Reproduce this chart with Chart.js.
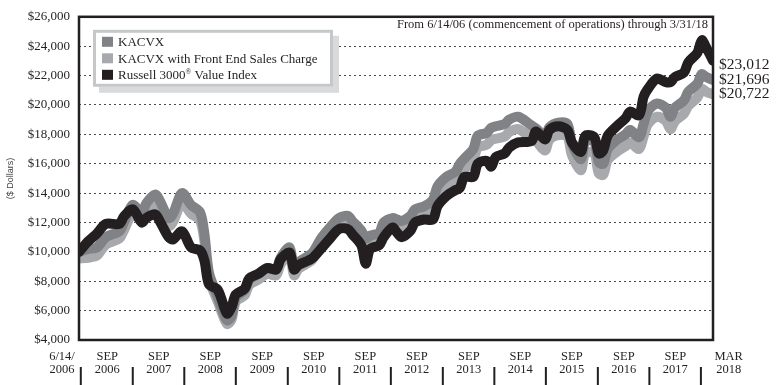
<!DOCTYPE html>
<html>
<head>
<meta charset="utf-8">
<script src="https://cdn.jsdelivr.net/npm/chart.js@4.4.1/dist/chart.umd.min.js"></script>
<style>
  html, body { margin: 0; padding: 0; background: #fff; }
</style>
</head>
<body>
<canvas id="growthChart" width="777" height="385"></canvas>
<script>
const months = [0,2,4,6,9,10,12,14,15,17,18,20,21,23,25,27,28,29,31,33,34,35,37,38,40,42,44,45,47,48,
  49,52,54,56,58,60,61,63,64,65,67,68,70,71,72,74,75,77,79,80,82,84,85,86,88,89,91,92,93,95,
  96,98,101,102,104,105,107,109,110,112,113,115,116,117,118,120,122,123,125,126,127,129,131,132,133,135,136,138,139,140,141.5];

const kacvx = [10000,10200,10300,11000,11400,12000,13200,12600,13300,13900,
  13500,12300,12600,14000,13200,12700,11200,8600,6900,5350,
  5600,6900,7400,8100,8500,8900,8800,9600,10300,8800,
  9300,9900,10900,11650,12300,12450,12100,11450,10900,11100,
  11300,12000,12300,12200,12100,12450,12900,13100,13550,14450,
  15100,15450,16000,16350,17000,17900,18100,18450,18550,18700,
  19000,19200,18600,18400,17900,18500,18800,18700,17400,16300,
  17500,17500,16100,16000,17000,17600,18000,18300,17800,18700,
  19600,20100,19800,19200,19800,20300,20900,21450,22100,21900,
  21696];

const kacvxLoad = [9550,9600,9750,10500,10900,11450,12600,12050,12700,13250,
  12900,11750,12050,13350,12600,12150,10700,8200,6600,5100,
  5350,6600,7050,7750,8100,8500,8400,9150,9800,8400,
  8850,9450,10400,11100,11750,11900,11550,10950,10400,10600,
  10800,11450,11750,11650,11550,11900,12300,12500,12950,13800,
  14400,14750,15300,15600,16250,17100,17300,17600,17700,17850,
  18150,18350,17750,17550,16900,17650,17950,17850,16600,15550,
  16700,16700,15350,15250,16250,16800,17200,17450,17000,17850,
  18700,19200,18900,18350,18900,19400,19950,20500,21100,20900,
  20722];

const russell = [10000,10700,11250,11900,11900,12400,12900,12000,12300,12550,
  12100,11000,10850,11400,10300,10100,9400,7800,7400,5800,
  6200,7100,7500,8200,8500,8900,8800,9500,9950,8800,
  9100,9550,10200,10900,11550,11550,11200,10450,9200,10200,
  10450,11000,11650,11300,11000,11450,12000,12200,12200,13100,
  13800,14200,14350,15100,15100,16000,16200,15800,16450,16700,
  17100,17450,17550,18200,17650,18300,18550,18300,17450,16800,
  17900,17800,16700,16900,17900,18550,19100,19550,19300,20550,
  21100,21800,21550,21550,21900,22200,22900,23550,24400,23900,
  23012];

const seriesNames = ['KACVX', 'KACVX with Front End Sales Charge', 'Russell 3000® Value Index'];
const endLabels = ['$21,696', '$20,722', '$23,012'];

const xLabels = [['6/14/','2006'],['SEP','2006'],['SEP','2007'],['SEP','2008'],['SEP','2009'],['SEP','2010'],
  ['SEP','2011'],['SEP','2012'],['SEP','2013'],['SEP','2014'],['SEP','2015'],['SEP','2016'],['SEP','2017'],['MAR','2018']];
const labelMonths = [-3.8,6.3,17.8,29.3,40.9,52.4,63.9,75.4,87.0,98.5,110.0,121.6,133.1,145.0];
const tickMonths = [0.4,12.0,23.5,35.0,46.6,58.1,69.6,81.2,92.7,104.2,115.8,127.3,138.8];

const subtitle = 'From 6/14/06 (commencement of operations) through 3/31/18';

const INK = '#231f20';
const MID = '#808285';
const LIGHT = '#a7a9ac';
const SERIF = '"Liberation Serif", "Times New Roman", serif';

function pts(vals) {
  return months.map((m, i) => ({ x: m, y: vals[i] }));
}

const decorations = {
  id: 'decorations',
  afterDatasetsDraw(chart) {
    const { ctx, chartArea: a, scales: { x, y } } = chart;
    ctx.save();

    // frame round the plot
    ctx.strokeStyle = INK;
    ctx.lineWidth = 2.5;
    ctx.strokeRect(a.left, a.top, a.right - a.left, a.bottom - a.top);

    // subtitle
    ctx.fillStyle = INK;
    ctx.font = '12.5px ' + SERIF;
    ctx.textAlign = 'right';
    ctx.textBaseline = 'middle';
    ctx.fillText(subtitle, a.right - 5, a.top + 8);

    // legend box with shadow
    const bx = a.left + 14, by = a.top + 13, bw = 240, bh = 57;
    ctx.fillStyle = '#d9dadc';
    ctx.fillRect(bx + 6, by + 6, bw, bh);
    ctx.fillStyle = '#fff';
    ctx.fillRect(bx, by, bw, bh);
    ctx.strokeStyle = '#c6c7c9';
    ctx.lineWidth = 3;
    ctx.strokeRect(bx + 1.5, by + 1.5, bw - 3, bh - 3);

    const cols = chart.data.datasets.map(d => d.borderColor);
    const legendFont = '13px ' + SERIF;
    ctx.textAlign = 'left';
    seriesNames.forEach((name, i) => {
      const cy = by + 12 + i * 16.5;
      ctx.fillStyle = cols[i];
      ctx.fillRect(bx + 9, cy - 5, 11, 10);
      ctx.fillStyle = INK;
      const parts = name.split('®');
      let tx = bx + 25;
      ctx.font = legendFont;
      ctx.fillText(parts[0], tx, cy + 1);
      if (parts.length > 1) {
        tx += ctx.measureText(parts[0]).width;
        ctx.font = '7.5px ' + SERIF;
        ctx.fillText('®', tx, cy - 3);
        tx += ctx.measureText('®').width;
        ctx.font = legendFont;
        ctx.fillText(parts[1], tx, cy + 1);
      }
    });

    // end values, stacked up from the lowest line
    const ends = chart.data.datasets.map((d, i) => ({
      v: d.data[d.data.length - 1].y, text: endLabels[i]
    })).sort((p, q) => p.v - q.v);
    ctx.font = '15.5px ' + SERIF;
    ctx.fillStyle = INK;
    let ly = y.getPixelForValue(ends[0].v);
    ends.forEach((e, i) => {
      const py = i === 0 ? ly : ly - 14.5;
      ly = py;
      ctx.fillText(e.text, a.right + 6, py);
    });

    // x labels and tick bars under them
    ctx.font = '12.5px ' + SERIF;
    ctx.textAlign = 'center';
    xLabels.forEach((lab, i) => {
      const px = x.getPixelForValue(labelMonths[i]);
      ctx.fillText(lab[0], px, a.bottom + 17);
      ctx.fillText(lab[1], px, a.bottom + 30);
    });
    ctx.fillStyle = INK;
    tickMonths.forEach(m => {
      const px = x.getPixelForValue(m);
      ctx.fillRect(px - 1, a.bottom + 27, 2, 20);
    });

    ctx.restore();
  }
};

new Chart(document.getElementById('growthChart'), {
  type: 'line',
  data: {
    datasets: [
      { label: seriesNames[0], data: pts(kacvx), borderColor: MID, order: 2 },
      { label: seriesNames[1], data: pts(kacvxLoad), borderColor: LIGHT, order: 3 },
      { label: seriesNames[2], data: pts(russell), borderColor: INK, order: 1 }
    ]
  },
  options: {
    responsive: false,
    animation: false,
    datasets: {
      line: {
        borderWidth: 10,
        pointRadius: 0,
        tension: 0.3,
        borderJoinStyle: 'round',
        borderCapStyle: 'round',
        fill: false
      }
    },
    layout: { padding: { left: 0, right: 64, top: 10, bottom: 45 } },
    plugins: {
      legend: { display: false },
      tooltip: { enabled: false }
    },
    scales: {
      x: { type: 'linear', min: 0, max: 141.5, display: false },
      y: {
        min: 4000,
        max: 26000,
        afterFit(scale) { scale.width = 79; },
        ticks: {
          stepSize: 2000,
          padding: 9,
          color: INK,
          font: { family: SERIF, size: 13 },
          callback: v => '$' + v.toLocaleString('en-US')
        },
        grid: { color: '#4a4a4a', lineWidth: 1, drawTicks: false },
        border: { display: false, dash: [2, 3] },
        title: {
          display: true,
          text: '($ Dollars)',
          color: '#444',
          font: { family: '"Liberation Sans", Arial, sans-serif', size: 9 },
          padding: { top: 5, bottom: 0 }
        }
      }
    }
  },
  plugins: [decorations]
});
</script>
</body>
</html>
